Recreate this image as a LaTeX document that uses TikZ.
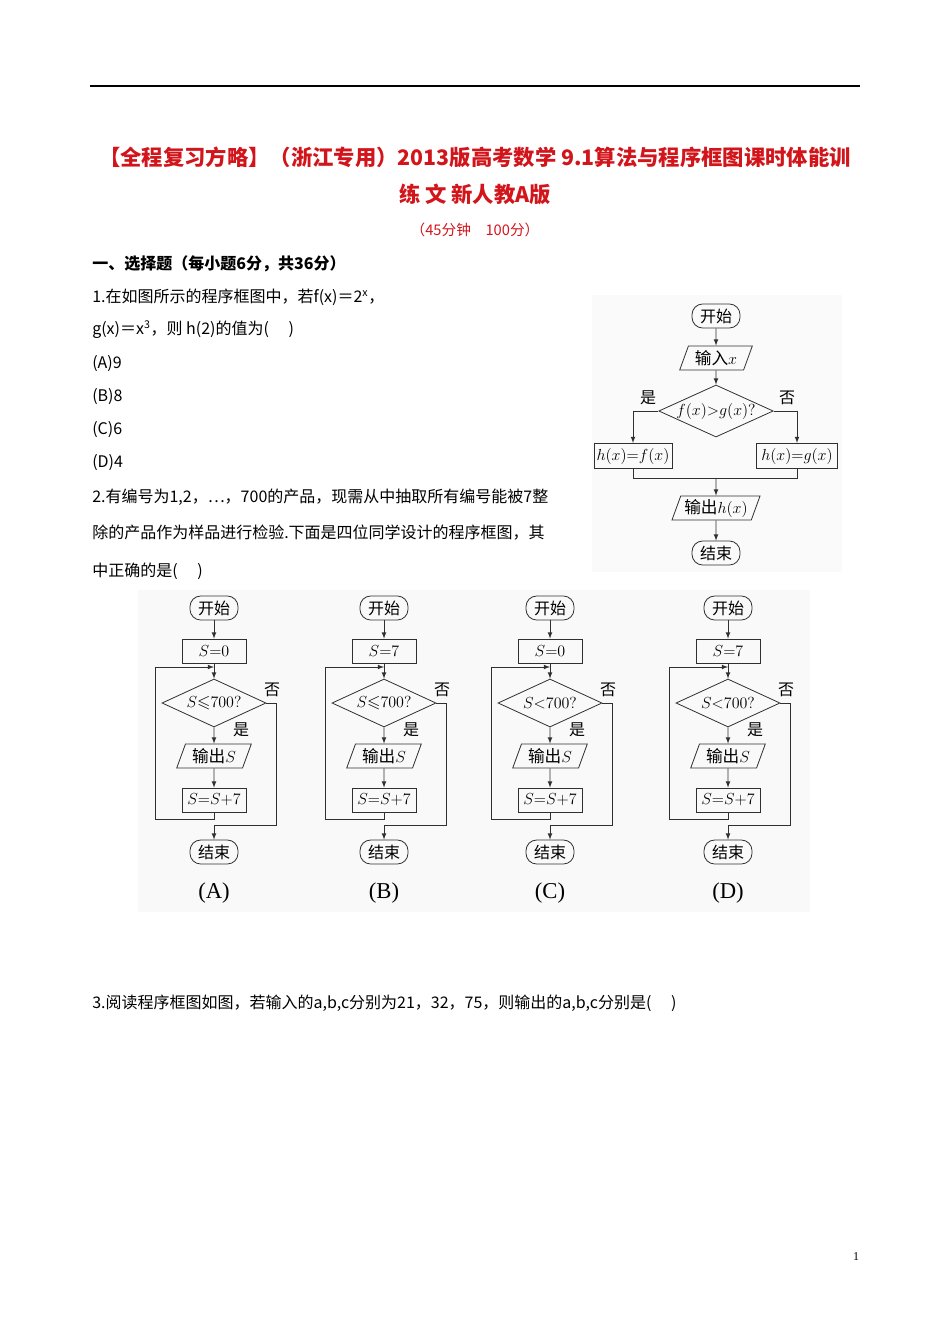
\documentclass[tikz,border=0pt]{standalone}
\usepackage{fontspec}
\usepackage{amssymb}
\setmainfont{Noto Sans CJK SC}
\newfontfamily\serifl{Liberation Serif}
\usetikzlibrary{shapes.geometric}
\definecolor{titred}{HTML}{D2151B}
\definecolor{ln}{HTML}{303030}
\tikzset{
  line/.style={draw=ln,line width=0.6pt},
  arr/.style={line,-latex},
  term/.style={line,rounded corners=8pt,minimum width=36pt,minimum height=18pt,inner sep=1pt,font=\fontsize{12}{12}\selectfont},
  io/.style={line,trapezium,trapezium left angle=70,trapezium right angle=110,minimum height=18pt,inner sep=2pt,font=\fontsize{12.5}{12}\selectfont},
  proc/.style={line,minimum height=19pt,inner sep=2pt,font=\fontsize{13}{12}\selectfont},
  dec/.style={line,diamond,aspect=2.2,inner sep=0pt,minimum width=80pt,minimum height=37pt,font=\fontsize{13}{12}\selectfont},
  body/.style={anchor=west,font=\fontsize{12}{14}\selectfont,inner sep=0pt},
  lbl/.style={font=\fontsize{12}{12}\selectfont,inner sep=0pt},
  ttl/.style={font=\fontsize{16}{18}\selectfont\bfseries,text=titred,inner sep=0pt}
}
\begin{document}
\begin{tikzpicture}[x=0.75pt,y=-0.75pt]
\useasboundingbox (0,0) rectangle (950,1344);
\draw[line width=0.8pt] (90,86) -- (860,86);
\node[ttl] (t1) at (475,157) {【全程复习方略】（浙江专用）2013版高考数学 9.1算法与程序框图课时体能训};
\node[ttl] (t2) at (475,194) {练 文 新人教A版};
\node[ttl,font=\fontsize{11}{12}\selectfont] (t3) at (475,230) {（45分钟\quad 100分）};
\node[body,font=\fontsize{12}{14}\selectfont\bfseries] (h1) at (92,264) {一、选择题（每小题6分，共36分）};
\node[body] (q1a) at (92,297) {1.在如图所示的程序框图中，若f(x)＝2\textsuperscript{x}，};
\node[body] (q1b) at (92,330) {g(x)＝x\textsuperscript{3}，则 h(2)的值为(\quad\ )};
\node[body] (oa) at (92,364) {(A)9};
\node[body] (ob) at (92,397) {(B)8};
\node[body] (oc) at (92,430) {(C)6};
\node[body] (od) at (92,463) {(D)4};
\node[body] (q2a) at (92,497) {2.有编号为1,2，…，700的产品，现需从中抽取所有编号能被7整};
\node[body] (q2b) at (92,533) {除的产品作为样品进行检验.下面是四位同学设计的程序框图，其};
\node[body] (q2c) at (92,571) {中正确的是(\quad\ )};
\node[body] (q3) at (92,1003) {3.阅读程序框图如图，若输入的a,b,c分别为21，32，75，则输出的a,b,c分别是(\quad\ )};
\node[inner sep=0pt,font=\fontsize{9}{9}\selectfont\serifl] (pg) at (856,1257) {1};
% figure 1
\fill[gray!4] (592,295) rectangle (842,572);
\node[term] (f1s) at (716,316) {开始};
\node[io] (f1i) at (716,358) {输入$x$};
\node[dec] (f1d) at (716,411) {$f(x){>}g(x)?$};
\node[proc,minimum width=58pt] (f1l) at (633,456) {$h(x){=}f(x)$};
\node[proc,minimum width=61pt] (f1r) at (797,456) {$h(x){=}g(x)$};
\coordinate (f1m) at (716,478);
\node[io] (f1o) at (716,508) {输出$h(x)$};
\node[term] (f1e) at (716,553) {结束};
\draw[arr] (f1s) -- (f1i);
\draw[arr] (f1i) -- (f1d);
\draw[arr] (f1d.west) -| (f1l.north);
\draw[arr] (f1d.east) -| (f1r.north);
\draw[line] (f1l.south) |- (f1m);
\draw[line] (f1r.south) |- (f1m);
\draw[arr] (f1m) -- (f1o);
\draw[arr] (f1o) -- (f1e);
\node[lbl] (f1y) at (648,398) {是};
\node[lbl] (f1n) at (787,398) {否};
% four charts
\fill[gray!5] (138,590) rectangle (810,912);
\foreach \cx/\n/\ini/\cnd/\lab in {214/A/0/\leqslant/(A),384/B/7/\leqslant/(B),550/C/0/</(C),728/D/7/</(D)}{
  \node[term] (s\n) at (\cx,608) {开始};
  \node[proc,minimum width=48pt,minimum height=18pt] (i\n) at (\cx,651) {$S{=}\ini$};
  \node[dec,minimum width=78pt,minimum height=36pt] (d\n) at (\cx,703) {$S{\cnd}700?$};
  \node[io] (o\n) at (\cx,756) {输出$S$};
  \node[proc,minimum width=48pt,minimum height=18pt] (a\n) at (\cx,800) {$S{=}S{+}7$};
  \node[term] (e\n) at (\cx,852) {结束};
  \coordinate (j\n) at (\cx,667);
  \coordinate (x\n) at (\cx,825);
  \draw[arr] (s\n) -- (i\n);
  \draw[arr] (i\n) -- (d\n);
  \draw[arr] (d\n) -- (o\n);
  \draw[arr] (o\n) -- (a\n);
  \draw[arr] (a\n.south) -- ++(0,7) -| ([xshift=-59*0.75pt]j\n) -- (j\n);
  \draw[line] (d\n.east) -| ([xshift=62*0.75pt]x\n) -- (x\n);
  \draw[arr] (x\n) -- (e\n);
  \node[lbl] (n\n) at (\cx+58,690) {否};
  \node[lbl] (y\n) at (\cx+27,730) {是};
  \node[inner sep=0pt,font=\fontsize{17}{17}\selectfont\serifl] (l\n) at (\cx,893) {\lab};
}
\end{tikzpicture}
\end{document}
